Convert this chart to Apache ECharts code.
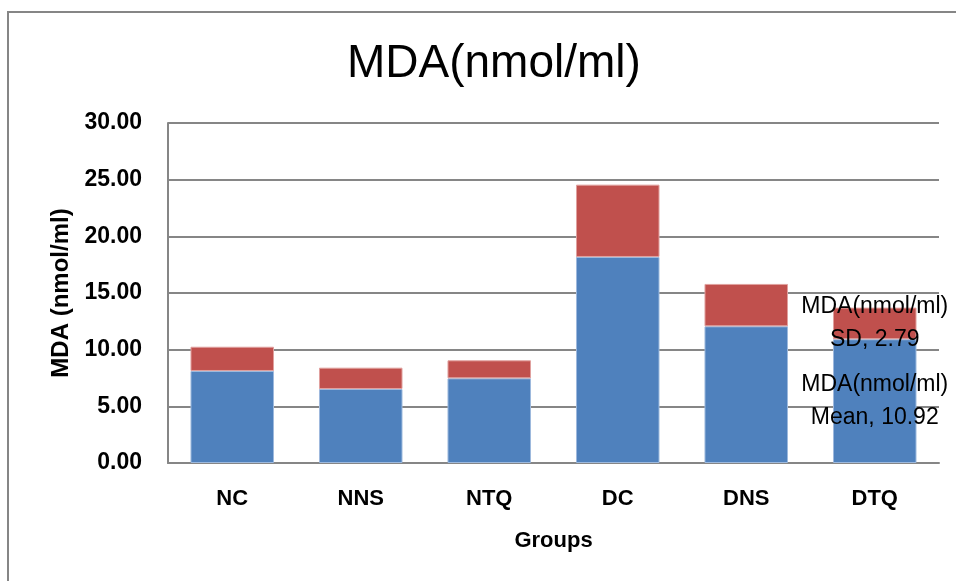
<!DOCTYPE html>
<html>
<head>
<meta charset="utf-8">
<script src="https://cdn.jsdelivr.net/npm/echarts@6/dist/echarts.min.js"></script>
<style>
  html, body { margin: 0; padding: 0; background: #fff; }
  #chart { width: 956px; height: 581px; }
</style>
</head>
<body>
<div id="chart"></div>
<script>
// 数据
const groups = ['NC', 'NNS', 'NTQ', 'DC', 'DNS', 'DTQ']
const meanValues = [8.12, 6.53, 7.47, 18.18, 12.06, 10.92]
const sdValues = [2.14, 1.88, 1.59, 6.38, 3.74, 2.79]
const yTicks = { min: 0, max: 30, interval: 5 }

const font = '"Liberation Sans", Arial, sans-serif'

// 只在最后一根柱子上显示数据标签
const labelLast = (values, name) => values.map((v, i) => i === values.length - 1
  ? {
      value: v,
      label: {
        show: true,
        position: 'inside',
        color: '#000',
        fontFamily: font,
        fontSize: 23,
        lineHeight: 33,
        formatter: () => 'MDA(nmol/ml)\n' + name + ', ' + v.toFixed(2)
      }
    }
  : v)

const chart = echarts.init(document.getElementById('chart'))
chart.setOption({
  backgroundColor: '#fff',
  animation: false,
  title: {
    text: 'MDA(nmol/ml)',
    left: 342,
    top: 36,
    textStyle: { fontFamily: font, fontSize: 46, fontWeight: 'normal', color: '#000' }
  },
  graphic: [{
    type: 'rect',
    shape: { x: 8, y: 12, width: 980, height: 600 },
    style: { fill: null, stroke: '#868686', lineWidth: 2 },
    silent: true
  }],
  grid: { left: 168, right: 17, top: 123, bottom: 118 },
  xAxis: {
    type: 'category',
    data: groups,
    name: 'Groups',
    nameLocation: 'middle',
    nameGap: 67,
    nameTextStyle: { fontFamily: font, fontSize: 22, fontWeight: 'bold', color: '#000' },
    axisLine: { lineStyle: { color: '#868686', width: 2 } },
    axisTick: { show: false },
    axisLabel: { margin: 25, fontFamily: font, fontSize: 22, fontWeight: 'bold', color: '#000' }
  },
  yAxis: {
    type: 'value',
    min: yTicks.min,
    max: yTicks.max,
    interval: yTicks.interval,
    name: 'MDA (nmol/ml)',
    nameLocation: 'middle',
    nameGap: 95,
    nameTextStyle: { fontFamily: font, fontSize: 24, fontWeight: 'bold', color: '#000' },
    axisLine: { show: true, lineStyle: { color: '#868686', width: 2 } },
    axisTick: { show: false },
    splitLine: { lineStyle: { color: '#868686', width: 2 } },
    axisLabel: {
      margin: 26,
      fontFamily: font,
      fontSize: 23,
      fontWeight: 'bold',
      color: '#000',
      formatter: (v) => v.toFixed(2)
    }
  },
  series: [
    {
      name: 'Mean',
      type: 'bar',
      stack: 'mda',
      barCategoryGap: '35%',
      data: labelLast(meanValues, 'Mean'),
      itemStyle: { color: '#4F81BD', borderColor: '#9DB9DD', borderWidth: 1 }
    },
    {
      name: 'SD',
      type: 'bar',
      stack: 'mda',
      barCategoryGap: '35%',
      data: labelLast(sdValues, 'SD'),
      itemStyle: { color: '#C0504D', borderColor: '#E0A09E', borderWidth: 1 }
    }
  ]
})
</script>
</body>
</html>
